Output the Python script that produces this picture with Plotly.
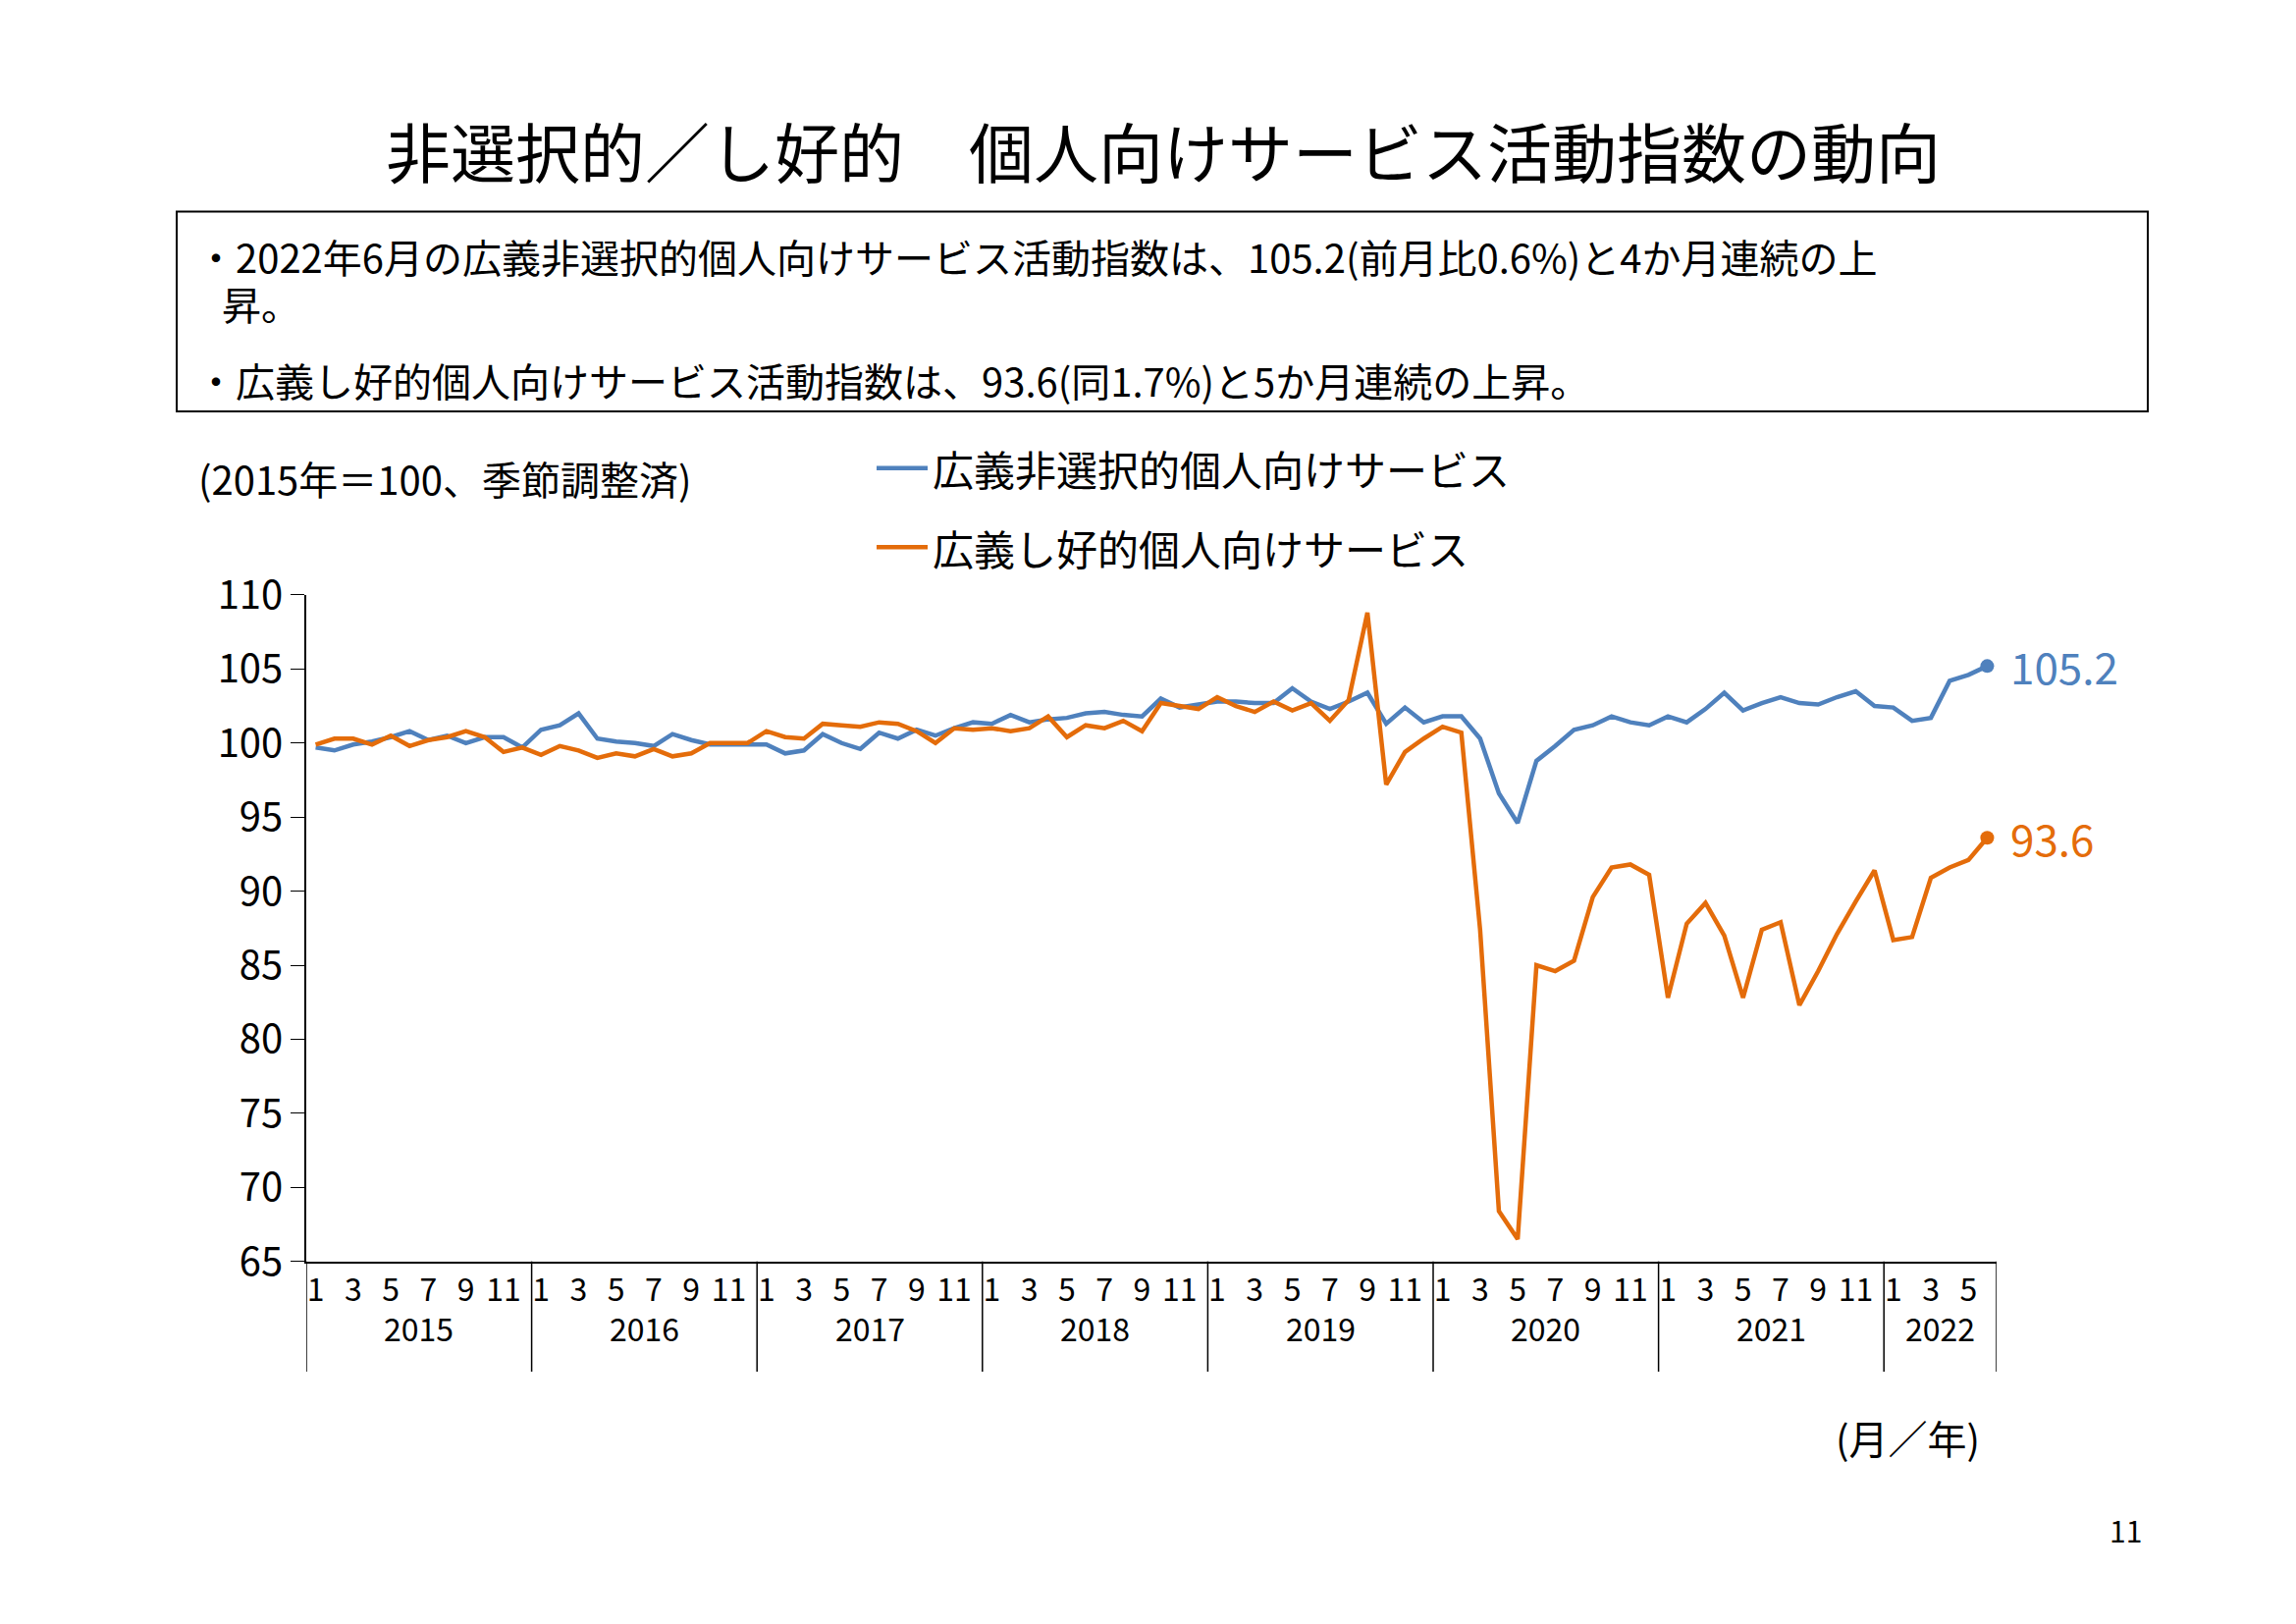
import plotly.graph_objects as go

months = list(range(90))
blue = [99.7,99.5,99.9,100.1,100.4,100.8,100.2,100.5,100.0,100.4,100.4,99.7,
        100.9,101.2,102.0,100.3,100.1,100.0,99.8,100.6,100.2,99.9,99.9,99.9,
        99.9,99.3,99.5,100.6,100.0,99.6,100.7,100.3,100.9,100.5,101.0,101.4,
        101.3,101.9,101.4,101.6,101.7,102.0,102.1,101.9,101.8,103.0,102.4,102.6,
        102.8,102.8,102.7,102.7,103.7,102.8,102.3,102.8,103.4,101.3,102.4,101.4,
        101.8,101.8,100.3,96.6,94.6,98.8,99.8,100.9,101.2,101.8,101.4,101.2,
        101.8,101.4,102.3,103.4,102.2,102.7,103.1,102.7,102.6,103.1,103.5,102.5,
        102.4,101.5,101.7,104.2,104.6,105.2]
orange = [99.9,100.3,100.3,99.9,100.5,99.8,100.2,100.4,100.8,100.4,99.4,99.7,
          99.2,99.8,99.5,99.0,99.3,99.1,99.6,99.1,99.3,100.0,100.0,100.0,
          100.8,100.4,100.3,101.3,101.2,101.1,101.4,101.3,100.8,100.0,101.0,100.9,
          101.0,100.8,101.0,101.8,100.4,101.2,101.0,101.5,100.8,102.7,102.5,102.3,
          103.1,102.5,102.1,102.8,102.2,102.7,101.5,102.9,108.8,97.2,99.4,100.3,
          101.1,100.7,87.4,68.4,66.5,85.0,84.6,85.3,89.6,91.6,91.8,91.1,
          82.8,87.8,89.2,87.0,82.8,87.4,87.9,82.3,84.6,87.1,89.3,91.4,
          86.7,86.9,90.9,91.6,92.1,93.6]
years = ["2015","2016","2017","2018","2019","2020","2021","2022"]
name_b = "広義非選択的個人向けサービス"
name_o = "広義し好的個人向けサービス"
BLUE = "#4F81BD"
ORANGE = "#E46C0A"
FONT = "Noto Sans CJK JP"
NARROW = "Liberation Sans Narrow, " + FONT

fig = go.Figure()
fig.add_trace(go.Scatter(x=months, y=blue, mode="lines", line=dict(color=BLUE, width=4.5), name=name_b))
fig.add_trace(go.Scatter(x=months, y=orange, mode="lines", line=dict(color=ORANGE, width=4.5), name=name_o))
fig.add_trace(go.Scatter(x=[months[-1]], y=[blue[-1]], mode="markers", marker=dict(color=BLUE, size=14)))
fig.add_trace(go.Scatter(x=[months[-1]], y=[orange[-1]], mode="markers", marker=dict(color=ORANGE, size=14)))

tickvals, ticktext = [], []
for i in range(90):
    m = i % 12 + 1
    if m % 2 == 1:
        tickvals.append(i)
        ticktext.append(str(m))

W, H = 2339, 1654
def px(x): return x / W
def py(y):
    r = (y - 37.5) / 0.971
    return 1 - r / H

x0, x1 = 304, 2026
y0, y1 = 607, 1290
fig.update_layout(
    width=W, height=H, margin=dict(l=0, r=0, t=0, b=0),
    paper_bgcolor="white", plot_bgcolor="white", showlegend=False,
    font=dict(family=FONT, color="black"),
    xaxis=dict(domain=[px(x0), px(x1)], range=[-0.5, 89.5], tickvals=tickvals, ticktext=ticktext,
               tickfont=dict(size=32, family=NARROW), ticks="", showgrid=False, zeroline=False,
               showline=True, linecolor="black", linewidth=1.5),
    yaxis=dict(domain=[py(y1), py(y0)], range=[65, 110], dtick=5, tickfont=dict(size=40, family=NARROW),
               ticks="outside", ticklen=14, tickcolor="black", showgrid=False, zeroline=False,
               showline=True, linecolor="black", linewidth=1.5),
)

shapes = []
for k in range(len(years) + 1):
    xv = -0.5 + 12 * k if k < len(years) else 89.5
    shapes.append(dict(type="line", xref="x", yref="paper", x0=xv, x1=xv, y0=py(1403), y1=py(y1),
                       line=dict(color="black", width=1.5)))
shapes.append(dict(type="rect", xref="paper", yref="paper", x0=px(172), x1=px(2180), y0=py(419), y1=py(214),
                   line=dict(color="black", width=2)))
for yy, c in [(477, BLUE), (558, ORANGE)]:
    shapes.append(dict(type="line", xref="paper", yref="paper", x0=px(885), x1=px(937), y0=py(yy), y1=py(yy),
                       line=dict(color=c, width=4.5)))
fig.update_layout(shapes=shapes)

ann = []
for k, yr in enumerate(years):
    xc = (-0.5 + 12 * k + min(-0.5 + 12 * (k + 1), 89.5)) / 2
    ann.append(dict(x=xc, y=py(1383), xref="x", yref="paper", text=yr, showarrow=False,
                    font=dict(size=32, family=NARROW)))
def pa(x, y, text, size, anchor="left", color="black", fam=FONT):
    ann.append(dict(x=px(x), y=py(y), xref="paper", yref="paper", xanchor=anchor, yanchor="middle",
                    showarrow=False, text=text, font=dict(size=size, color=color, family=fam)))
pa(1177, 150, "非選択的／し好的　個人向けサービス活動指数の動向", 66, "center")
pa(190, 260, "・2022年6月の広義非選択的個人向けサービス活動指数は、105.2(前月比0.6%)と4か月連続の上", 40)
pa(216, 308, "昇。", 40)
pa(190, 387, "・広義し好的個人向けサービス活動指数は、93.6(同1.7%)と5か月連続の上昇。", 40)
pa(192, 487, "(2015年＝100、季節調整済)", 40)
pa(940, 477, name_b, 42)
pa(940, 558, name_o, 42)
pa(1860, 1470, "(月／年)", 40)
pa(2157, 1565, "11", 30, "center")
ann.append(dict(x=months[-1], y=blue[-1], xref="x", yref="y", xanchor="left", xshift=22, showarrow=False,
                text=f"{blue[-1]}", font=dict(size=44, color=BLUE, family=NARROW)))
ann.append(dict(x=months[-1], y=orange[-1], xref="x", yref="y", xanchor="left", xshift=22, showarrow=False,
                text=f"{orange[-1]}", font=dict(size=44, color=ORANGE, family=NARROW)))
fig.update_layout(annotations=ann)
fig.write_html("out.html")
